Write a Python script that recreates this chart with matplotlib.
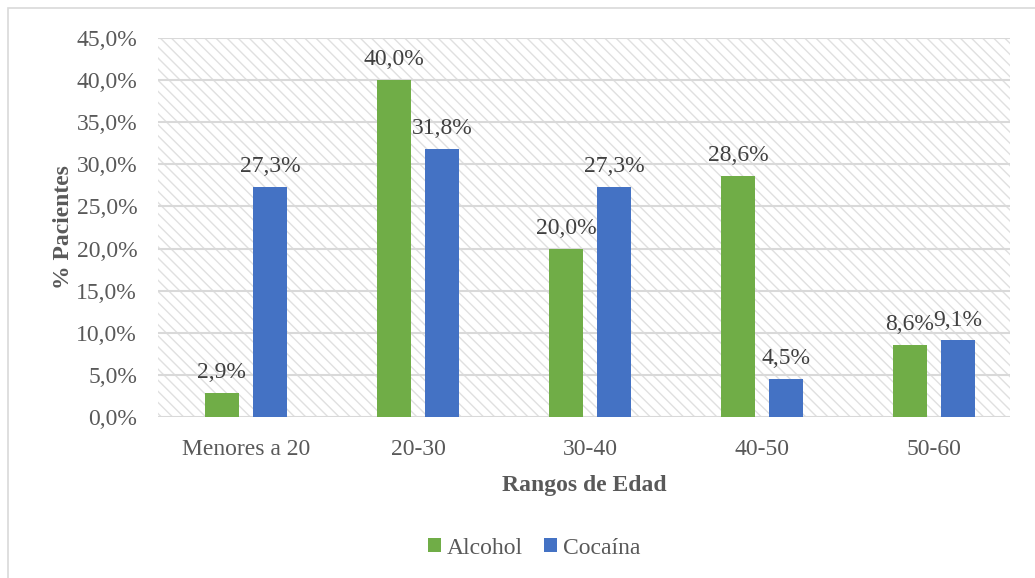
import matplotlib
matplotlib.use("Agg")
import matplotlib.pyplot as plt
from matplotlib.patches import Rectangle
from matplotlib.ticker import FuncFormatter, MultipleLocator
import numpy as np

categories = ["Menores a 20", "20-30", "30-40", "40-50", "50-60"]
alcohol = [2.9, 40.0, 20.0, 28.6, 8.6]
cocaina = [27.3, 31.8, 27.3, 4.5, 9.1]
series_names = ["Alcohol", "Cocaína"]

plt.rcParams['font.family'] = ['Liberation Serif', 'DejaVu Serif']
plt.rcParams['hatch.linewidth'] = 1.0
plt.rcParams['hatch.color'] = '#e0e0e0'

TXT = '#595959'
FS = 17
fig = plt.figure(figsize=(10.35, 5.78), dpi=100)
fig.patches.append(Rectangle((8/1035, -0.01), 1.02, 1 - 8/578 + 0.01, transform=fig.transFigure,
                             fill=False, edgecolor='#d9d9d9', linewidth=1.2))
ax = fig.add_axes([158/1035, 1 - 417/578, 852/1035, (417 - 38)/578])

bg = Rectangle((0, 0), 1, 1, transform=ax.transAxes, facecolor='white',
               edgecolor='#e0e0e0', linewidth=0, hatch='\\\\\\', zorder=0)
ax.add_patch(bg)

x = np.arange(len(categories))
w = 0.2
off = 0.14
b1 = ax.bar(x - off, alcohol, w, color='#70AD47', label=series_names[0], zorder=3)
b2 = ax.bar(x + off, cocaina, w, color='#4472C4', label=series_names[1], zorder=3)

for bars, vals in ((b1, alcohol), (b2, cocaina)):
    for b, v in zip(bars, vals):
        ax.annotate(f"{v:.1f}%".replace('.', ','), (b.get_x() + b.get_width()/2, v),
                    xytext=(0, 7), textcoords='offset points', ha='center', va='bottom',
                    fontsize=FS, color='#404040')

ax.set_xlim(-0.5116, 4.4419)
ax.set_ylim(0, 45)
ax.yaxis.set_major_locator(MultipleLocator(5))
ax.yaxis.set_major_formatter(FuncFormatter(lambda v, p: f"{v:.1f}%".replace('.', ',')))
ax.set_xticks(x)
ax.set_xticklabels(categories)
ax.tick_params(axis='both', length=0, labelsize=FS, labelcolor=TXT)
ax.tick_params(axis='x', pad=16)
ax.tick_params(axis='y', pad=15)
ax.grid(axis='y', color='#d9d9d9', linewidth=1.5, zorder=1)
ax.set_axisbelow(True)
for s in ax.spines.values():
    s.set_visible(False)
ax.patch.set_alpha(0)

ax.set_ylabel("% Pacientes", fontsize=FS, fontweight='bold', color=TXT, labelpad=2)
ax.set_xlabel("Rangos de Edad", fontsize=FS, fontweight='bold', color=TXT, labelpad=11)

leg = fig.legend(handles=[b1, b2], labels=series_names, loc='center', bbox_to_anchor=(534/1035, 1 - 548/578),
                 ncol=2, frameon=False, fontsize=FS, handlelength=0.55, handleheight=0.55,
                 handletextpad=0.25, columnspacing=0.9)
for t in leg.get_texts():
    t.set_color(TXT)

fig.savefig("out.png", dpi=100)
